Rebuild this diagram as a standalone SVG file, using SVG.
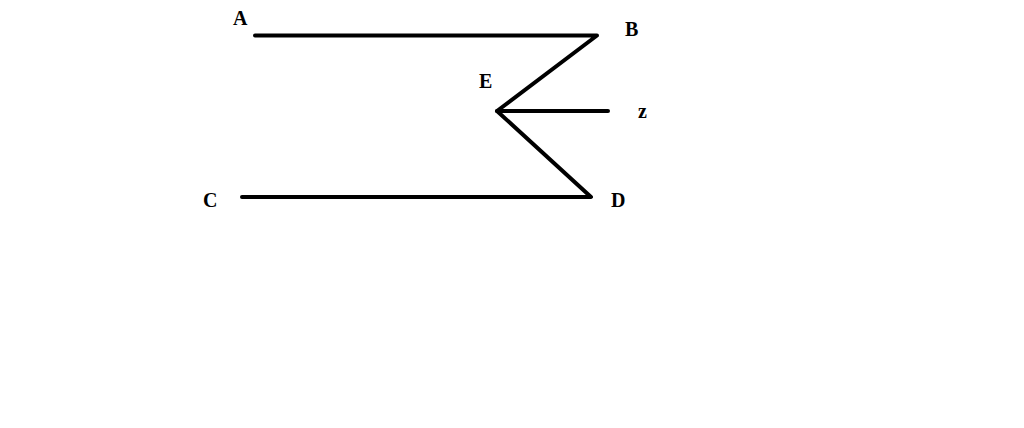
<svg xmlns="http://www.w3.org/2000/svg" width="1024" height="428" viewBox="0 0 1024 428">
<style>
.ln{stroke:#000;stroke-width:4;fill:none;stroke-linecap:round;stroke-linejoin:round}
.lb{font-family:"Liberation Serif","Times New Roman",serif;font-weight:bold;font-size:20px;fill:#000}
</style>
<rect width="1024" height="428" fill="#fff"/>
<g id="connectors">
<polyline class="ln" points="255,35.5 597,35.5 497,111 591,197 242,197"/>
<line class="ln" x1="497" y1="111" x2="608" y2="111"/>
</g>
<g id="A"><text class="lb" x="233" y="25">A</text></g>
<g id="B"><text class="lb" x="625" y="36">B</text></g>
<g id="E"><text class="lb" x="479" y="88">E</text></g>
<g id="z"><text class="lb" x="638" y="118">z</text></g>
<g id="C"><text class="lb" x="203" y="207">C</text></g>
<g id="D"><text class="lb" x="611" y="207">D</text></g>
</svg>
